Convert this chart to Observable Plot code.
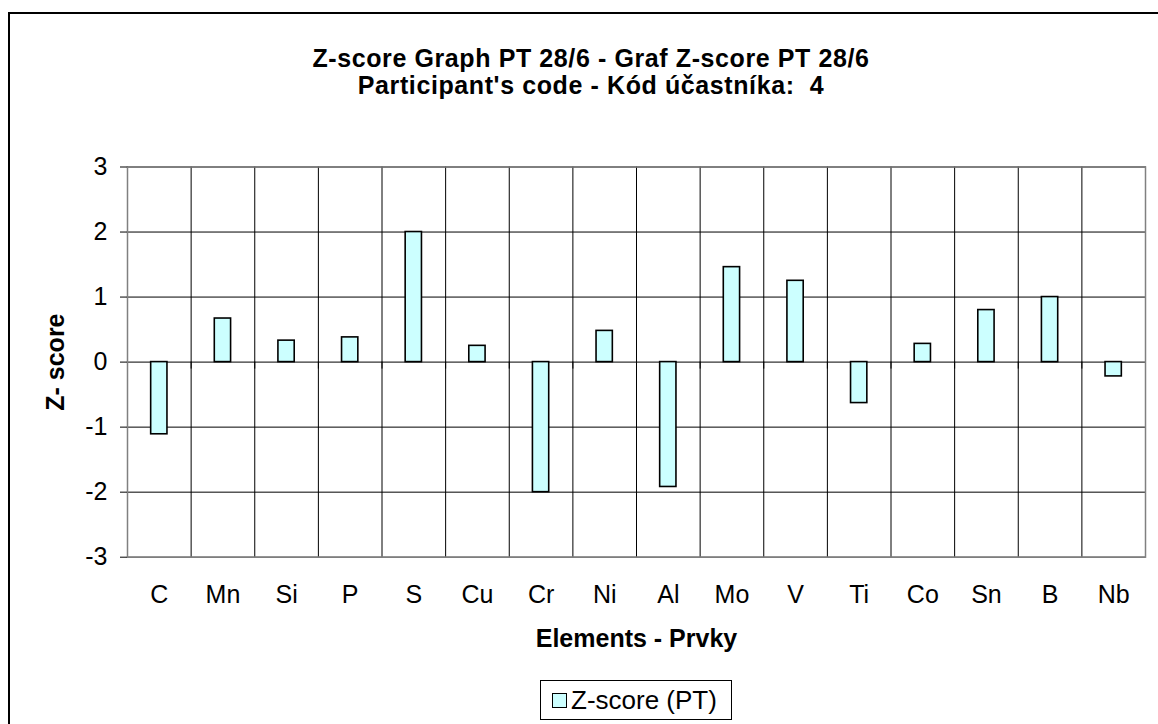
<!DOCTYPE html>
<html>
<head>
<meta charset="utf-8">
<script src="https://cdn.jsdelivr.net/npm/d3@7"></script>
<script src="https://cdn.jsdelivr.net/npm/@observablehq/plot@0.6"></script>
<style>
  html, body { margin: 0; padding: 0; background: #fff; overflow: hidden; }
  body { width: 1158px; height: 724px; position: relative; font-family: "Liberation Sans", Arial, sans-serif; }
  #frame { position: absolute; left: 8px; top: 12px; width: 1200px; height: 800px; border: 2px solid #000; box-sizing: border-box; }
  #title { position: absolute; left: 0; top: 45px; width: 1182px; text-align: center; font-weight: bold; font-size: 25px; line-height: 27px; letter-spacing: 0.6px; color: #000; white-space: nowrap; }
  #chart { position: absolute; left: 0; top: 0; }
  #legend { position: absolute; left: 540px; top: 680px; width: 192px; height: 40px; border: 1px solid #000; box-sizing: border-box; display: flex; align-items: center; padding-left: 11px; font-size: 26px; background: #fff; white-space: nowrap; }
  #legend .sw { width: 15px; height: 15px; border: 1px solid #000; background: #CCFFFF; box-sizing: border-box; margin-right: 4px; flex: none; }
</style>
</head>
<body>
<div id="frame"></div>
<div id="title">Z-score Graph PT 28/6 - Graf Z-score PT 28/6<br>Participant's code - Kód účastníka:&nbsp; 4</div>
<div id="chart"></div>
<div id="legend"><span class="sw"></span><span>Z-score (PT)</span></div>
<script>
const elements = ["C","Mn","Si","P","S","Cu","Cr","Ni","Al","Mo","V","Ti","Co","Sn","B","Nb"];
const zscores = [-1.11, 0.67, 0.33, 0.38, 2.0, 0.25, -2.0, 0.48, -1.92, 1.46, 1.25, -0.63, 0.28, 0.80, 1.0, -0.22];
const yTicks = [-3, -2, -1, 0, 1, 2, 3];
const seriesName = "Z-score (PT)";
const xTitle = "Elements - Prvky";
const yTitle = "Z- score";

const data = elements.map((el, i) => ({el, i, z: zscores[i]}));
const bounds = d3.range(elements.length + 1);
const font = "'Liberation Sans', Arial, sans-serif";

const chart = Plot.plot({
  width: 1158,
  height: 660,
  marginLeft: 127,
  marginRight: 13,
  marginTop: 166.5,
  marginBottom: 103.3,
  style: {fontFamily: font, background: "transparent", color: "#000"},
  x: {domain: [0, elements.length], axis: null},
  y: {domain: [-3, 3], axis: null},
  marks: [
    Plot.ruleY(yTicks, {stroke: "#000", strokeWidth: 1}),
    Plot.ruleX(bounds, {stroke: "#000", strokeWidth: 1}),
    Plot.ruleX(bounds, {y1: 0, y2: 0, insetBottom: -7, stroke: "#000"}),
    Plot.frame({stroke: "#808080", strokeWidth: 1.5}),
    Plot.rectY(data, {x1: d => d.i + 0.372, x2: d => d.i + 0.628, y1: 0, y2: "z", fill: "#CCFFFF", stroke: "#000", strokeWidth: 1.6}),
    Plot.axisY({ticks: yTicks, tickSize: 7, tickPadding: 13, fontSize: 25, label: null, tickFormat: d => d < 0 ? "-" + Math.abs(d) : String(d)}),
    Plot.axisX({ticks: elements.map((e, i) => i + 0.5), tickFormat: d => elements[Math.floor(d)], tickSize: 0, tickPadding: 28, fontSize: 25, label: null}),
    Plot.text([xTitle], {frameAnchor: "bottom", dy: 82, text: d => d, fontSize: 25, fontWeight: "bold", lineAnchor: "middle", fill: "#000"}),
    Plot.text([yTitle], {frameAnchor: "left", dx: -72, rotate: -90, text: d => d, fontSize: 25, fontWeight: "bold", textAnchor: "middle", lineAnchor: "middle", fill: "#000"})
  ]
});
document.getElementById("chart").appendChild(chart);
</script>
</body>
</html>
